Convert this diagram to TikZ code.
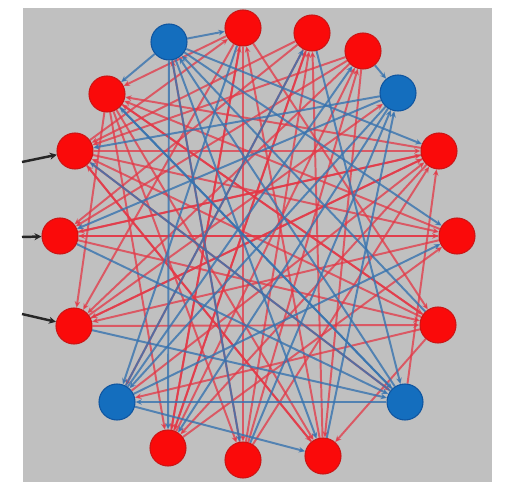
\documentclass[tikz,border=0pt]{standalone}
\usetikzlibrary{arrows.meta}
\pgfdeclarelayer{bg}
\pgfdeclarelayer{edges}
\pgfsetlayers{bg,edges,main}
\definecolor{bggray}{RGB}{192,192,192}
\definecolor{nred}{RGB}{250,10,10}
\definecolor{nredb}{RGB}{205,20,20}
\definecolor{nblue}{RGB}{20,110,190}
\definecolor{nblueb}{RGB}{15,85,160}
\definecolor{ered}{RGB}{228,55,70}
\definecolor{eblue}{RGB}{55,115,175}
\tikzset{
  rnode/.style={circle,fill=nred,draw=nredb,line width=1.5pt,minimum size=18mm,inner sep=0pt},
  bnode/.style={circle,fill=nblue,draw=nblueb,line width=1.5pt,minimum size=18mm,inner sep=0pt},
  redge/.style={draw=ered,line width=2.8pt,opacity=0.75,-{Stealth[length=9pt,width=8pt]}},
  bedge/.style={draw=eblue,line width=2.8pt,opacity=0.8,-{Stealth[length=9pt,width=8pt]}},
  inarrow/.style={draw=black!85,line width=3.5pt,-{Stealth[length=10pt,width=10pt]}}
}
\begin{document}
\begin{tikzpicture}[x=0.5mm,y=-0.5mm]
\useasboundingbox (0,0) rectangle (509,485);
\begin{pgfonlayer}{bg}
\fill[white] (0,0) rectangle (509,485);
\fill[bggray] (23,8) rectangle (492,482);
\end{pgfonlayer}
\node[bnode] (n1) at (169,42) {};
\node[rnode] (n2) at (243,28) {};
\node[rnode] (n3) at (312,33) {};
\node[rnode] (n4) at (363,51) {};
\node[bnode] (n5) at (398,93) {};
\node[rnode] (n6) at (439,151) {};
\node[rnode] (n7) at (457,236) {};
\node[rnode] (n8) at (438,325) {};
\node[bnode] (n9) at (405,402) {};
\node[rnode] (n10) at (323,456) {};
\node[rnode] (n11) at (243,460) {};
\node[rnode] (n12) at (168,448) {};
\node[bnode] (n13) at (117,402) {};
\node[rnode] (n14) at (74,326) {};
\node[rnode] (n15) at (60,236) {};
\node[rnode] (n16) at (75,151) {};
\node[rnode] (n17) at (107,94) {};
\coordinate (s1) at (22,162);
\coordinate (s2) at (22,237);
\coordinate (s3) at (22,314);
\draw[inarrow] (s1) -- (n16);
\draw[inarrow] (s2) -- (n15);
\draw[inarrow] (s3) -- (n14);
\begin{pgfonlayer}{edges}
\foreach \a/\b in {2/12,2/14,16/2,3/15,3/13,11/3,4/14,12/4,4/16,6/15,13/6,6/17,7/15,16/7,7/14,12/7,8/16,8/13,2/8,17/10,10/2,4/10,11/1,11/6,12/3,14/6,15/8,16/10,16/9,17/8,17/11,14/5,15/6,2/11,3/12,10/16,6/14,8/17,7/17,11/4,14/8,15/7,17/12,12/2,16/6,10/3,4/15,6/12,17/14,8/10,2/17,3/16,9/6}
  \draw[redge] (n\a) -- (n\b);
\foreach \a/\b in {1/17,1/12,1/10,8/1,1/7,5/15,5/13,11/5,5/16,9/1,9/16,14/9,9/13,3/9,13/4,13/7,2/13,13/10,1/11,5/12,9/17,15/9,1/6,13/3,10/5,17/9,4/5,1/2}
  \draw[bedge] (n\a) -- (n\b);
\end{pgfonlayer}
\end{tikzpicture}
\end{document}
